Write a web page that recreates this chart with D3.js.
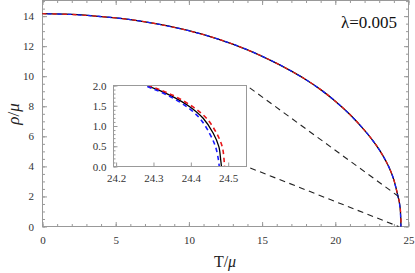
<!DOCTYPE html>
<html>
<head>
<meta charset="utf-8">
<script src="https://cdn.jsdelivr.net/npm/d3@7"></script>
<style>
  body { margin: 0; background: #fff; }
  svg { display: block; }
  .axis .domain { display: none; }
  .axis line { stroke: #999; }
</style>
</head>
<body>
<svg id="chart" width="415" height="273"></svg>
<script>
const serif = "'Liberation Serif', 'Times New Roman', Times, serif";

// rho/mu values shared by the three curves, T/mu read for each
const rhoGrid = [14.16, 14.11, 13.97, 13.77, 13.45, 13.03, 12.47, 11.76, 10.86, 10.34, 9.77, 9.11, 8.34, 7.45, 6.40, 5.80, 5.12, 4.28, 3.65, 3.10, 2.56, 2.02, 1.757, 1.47, 1.19, 0.82, 0.49, 0.16, 0];
const tBlack = [0, 2, 4, 6, 8, 10, 12, 14, 16, 17, 18, 19, 20, 21, 22, 22.5, 23, 23.5, 23.8, 24.0, 24.148, 24.278, 24.345, 24.398, 24.433, 24.46, 24.475, 24.48, 24.482];
const tRed = [0, 2, 4, 6, 8, 10, 12, 14, 16, 17, 18, 19, 20, 21, 22, 22.5, 23, 23.5, 23.8, 24.002, 24.152, 24.283, 24.352, 24.406, 24.442, 24.469, 24.484, 24.489, 24.49];
const tBlue = [0, 2, 4, 6, 8, 10, 12, 14, 16, 17, 18, 19, 20, 21, 22, 22.5, 23, 23.5, 23.8, 23.998, 24.144, 24.273, 24.338, 24.39, 24.424, 24.45, 24.466, 24.474, 24.476];

const xTicks = [0, 5, 10, 15, 20, 25];
const yTicks = [0, 2, 4, 6, 8, 10, 12, 14];
const insetXTicks = [24.2, 24.3, 24.4, 24.5];
const insetYTicks = [0, 0.5, 1, 1.5, 2];
// where the guide lines from the inset land
const zoomT = 24.32;
const label = "λ=0.005";

const series = [
  { t: tBlack, color: "#000", dash: null },
  { t: tRed, color: "#e8171b", dash: "4,6", offset: 0 },
  { t: tBlue, color: "#1a1aff", dash: "4,6", offset: 5 }
];

const svg = d3.select("#chart");

const x = d3.scaleLinear().domain([0, 25]).range([42.5, 408.5]);
const y = d3.scaleLinear().domain([0, 15.04]).range([226.5, 0.5]);

const xi = d3.scaleLinear().domain([24.193, 24.549]).range([113.5, 246.5]);
const yi = d3.scaleLinear().domain([0, 2]).range([166.5, 85.5]);

function points(s) {
  return s.t.map((t, i) => [t, rhoGrid[i]]);
}

function axisG(g, tr) {
  return g.append("g").attr("class", "axis").attr("transform", tr);
}

function drawFrame(g, xs, ys, opts) {
  const [x0, x1] = xs.range();
  const [y0, y1] = ys.range();

  axisG(g, "translate(0," + y0 + ")")
    .call(d3.axisBottom(xs).tickValues(opts.xMinor).tickSize(-opts.minor).tickFormat(""));
  axisG(g, "translate(0," + y0 + ")")
    .call(d3.axisBottom(xs).tickValues(opts.xMajor).tickSize(-opts.major).tickPadding(opts.major + opts.xPad)
      .tickFormat(opts.xFmt));
  axisG(g, "translate(" + x0 + ",0)")
    .call(d3.axisLeft(ys).tickValues(opts.yMinor).tickSize(-opts.minor).tickFormat(""));
  axisG(g, "translate(" + x0 + ",0)")
    .call(d3.axisLeft(ys).tickValues(opts.yMajor).tickSize(-opts.major).tickPadding(opts.major + opts.yPad)
      .tickFormat(opts.yFmt));
  if (opts.all) {
    axisG(g, "translate(0," + y1 + ")")
      .call(d3.axisTop(xs).tickValues(opts.xMinor).tickSize(-opts.minor).tickFormat(""));
    axisG(g, "translate(0," + y1 + ")")
      .call(d3.axisTop(xs).tickValues(opts.xMajor).tickSize(-opts.major).tickFormat(""));
    axisG(g, "translate(" + x1 + ",0)")
      .call(d3.axisRight(ys).tickValues(opts.yMinor).tickSize(-opts.minor).tickFormat(""));
    axisG(g, "translate(" + x1 + ",0)")
      .call(d3.axisRight(ys).tickValues(opts.yMajor).tickSize(-opts.major).tickFormat(""));
  }
  g.selectAll(".axis").attr("font-family", serif).attr("font-size", 11);
  g.selectAll(".axis text").attr("fill", "#333");

  g.append("rect")
    .attr("x", x0).attr("y", y1).attr("width", x1 - x0).attr("height", y0 - y1)
    .attr("fill", "none").attr("stroke", "#999").attr("stroke-width", 1);
}

// main plot
const main = svg.append("g");
drawFrame(main, x, y, {
  xMajor: xTicks, xMinor: d3.range(0, 25.01, 1),
  yMajor: yTicks, yMinor: d3.range(0, 15.01, 0.5),
  major: 4.5, minor: 2.5, all: true, xPad: 5, yPad: 4,
  xFmt: d3.format("d"), yFmt: d3.format("d")
});

const line = d3.line().x(d => x(d[0])).y(d => y(d[1])).curve(d3.curveCatmullRom);
series.forEach(s => {
  main.append("path")
    .attr("d", line(points(s)))
    .attr("fill", "none")
    .attr("stroke", s.color)
    .attr("stroke-width", 1.3)
    .attr("stroke-dasharray", s.dash)
    .attr("stroke-dashoffset", s.offset || 0);
});

// guide lines from the inset corners
const ix1 = xi.range()[1];
[[yi.range()[1], 2], [yi.range()[0], 0]].forEach(([py, rho]) => {
  main.append("line")
    .attr("x1", ix1).attr("y1", py)
    .attr("x2", x(zoomT)).attr("y2", y(rho))
    .attr("stroke", "#222").attr("stroke-width", 1.1)
    .attr("stroke-dasharray", "6,4.5").attr("stroke-dashoffset", -4);
});

main.append("text")
  .attr("x", 397).attr("y", 28)
  .attr("text-anchor", "end")
  .attr("font-family", serif)
  .attr("font-size", 17)
  .attr("fill", "#111")
  .text(label);

// axis titles
const xt = svg.append("text")
  .attr("x", 225).attr("y", 267)
  .attr("text-anchor", "middle").attr("font-family", serif).attr("font-size", 16).attr("fill", "#222");
xt.append("tspan").text("T/");
xt.append("tspan").attr("font-style", "italic").text("μ");

const yt = svg.append("text")
  .attr("transform", "translate(19,114) rotate(-90)")
  .attr("text-anchor", "middle").attr("font-family", serif).attr("font-size", 17).attr("fill", "#222");
yt.append("tspan").attr("font-style", "italic").text("ρ");
yt.append("tspan").text("/");
yt.append("tspan").attr("font-style", "italic").text("μ");

// inset
const inset = svg.append("g");
inset.append("rect")
  .attr("x", xi.range()[0]).attr("y", yi.range()[1])
  .attr("width", xi.range()[1] - xi.range()[0]).attr("height", yi.range()[0] - yi.range()[1])
  .attr("fill", "#fff");

inset.append("clipPath").attr("id", "insetClip")
  .append("rect")
  .attr("x", xi.range()[0]).attr("y", yi.range()[1])
  .attr("width", xi.range()[1] - xi.range()[0]).attr("height", yi.range()[0] - yi.range()[1]);

const lineI = d3.line().x(d => xi(d[0])).y(d => yi(d[1])).curve(d3.curveCatmullRom);
const curves = inset.append("g").attr("clip-path", "url(#insetClip)");
series.forEach(s => {
  curves.append("path")
    .attr("d", lineI(points(s)))
    .attr("fill", "none")
    .attr("stroke", s.color)
    .attr("stroke-width", s.dash ? 1.6 : 1.3)
    .attr("stroke-dasharray", s.dash ? "4.5,3.5" : null);
});

drawFrame(inset, xi, yi, {
  xMajor: insetXTicks, xMinor: [],
  yMajor: insetYTicks, yMinor: d3.range(0, 2.001, 0.1),
  major: 4, minor: 2, all: false, xPad: 4, yPad: 3,
  xFmt: d3.format(".1f"), yFmt: d3.format(".1f")
});
</script>
</body>
</html>
